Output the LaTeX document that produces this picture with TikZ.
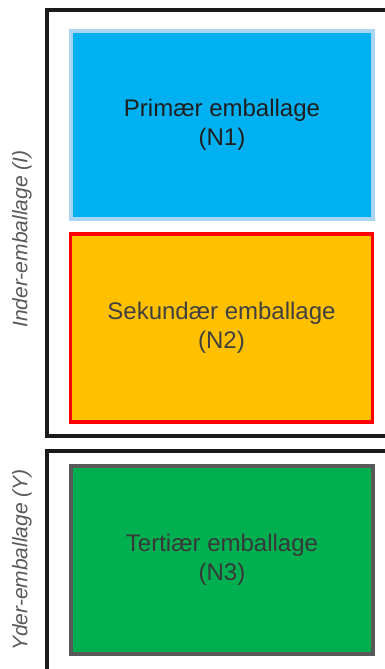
\documentclass[tikz,border=0pt]{standalone}
\usepackage{fontspec}
\setmainfont{Liberation Sans}
\definecolor{primblue}{HTML}{00B0F0}
\definecolor{primedge}{HTML}{A9D5F2}
\definecolor{sekyellow}{HTML}{FFC000}
\definecolor{sekedge}{HTML}{FF0000}
\definecolor{tertgreen}{HTML}{00B050}
\definecolor{tertedge}{HTML}{595959}
\definecolor{framegray}{HTML}{1A1A1A}
\definecolor{labelgray}{HTML}{595959}
\tikzset{
  pkgbox/.style={draw, line width=3.75pt, minimum width=302pt,
    minimum height=188pt, align=center, inner sep=0pt,
    font=\fontsize{24}{29}\selectfont},
  sidelabel/.style={rotate=90, text=labelgray,
    font=\fontsize{21}{25}\selectfont\itshape},
  frameline/.style={draw=framegray, line width=4pt}
}
\begin{document}
\begin{tikzpicture}[x=1pt,y=-1pt]
   \useasboundingbox (0,0) rectangle (385,669);

   % ydre rammer
   \draw[frameline] (395,10) -- (47,10) -- (47,436) -- (395,436);
   \draw[frameline] (395,451) -- (47,451) -- (47,680);

   \node[pkgbox, draw=primedge, fill=primblue, text=black!88]
     (n1) at (222,125) {Primær emballage\\(N1)};
   \node[pkgbox, draw=sekedge, fill=sekyellow, text=black!75]
     (n2) at (221.5,328) {Sekundær emballage\\(N2)};
   \node[pkgbox, draw=tertedge, fill=tertgreen, text=black!78]
     (n3) at (222,560) {Tertiær emballage\\(N3)};

   \node[sidelabel] (inder) at (22,239) {Inder-emballage (I)};
   \node[sidelabel] (yder) at (22,560) {Yder-emballage (Y)};
 \end{tikzpicture}
\end{document}
